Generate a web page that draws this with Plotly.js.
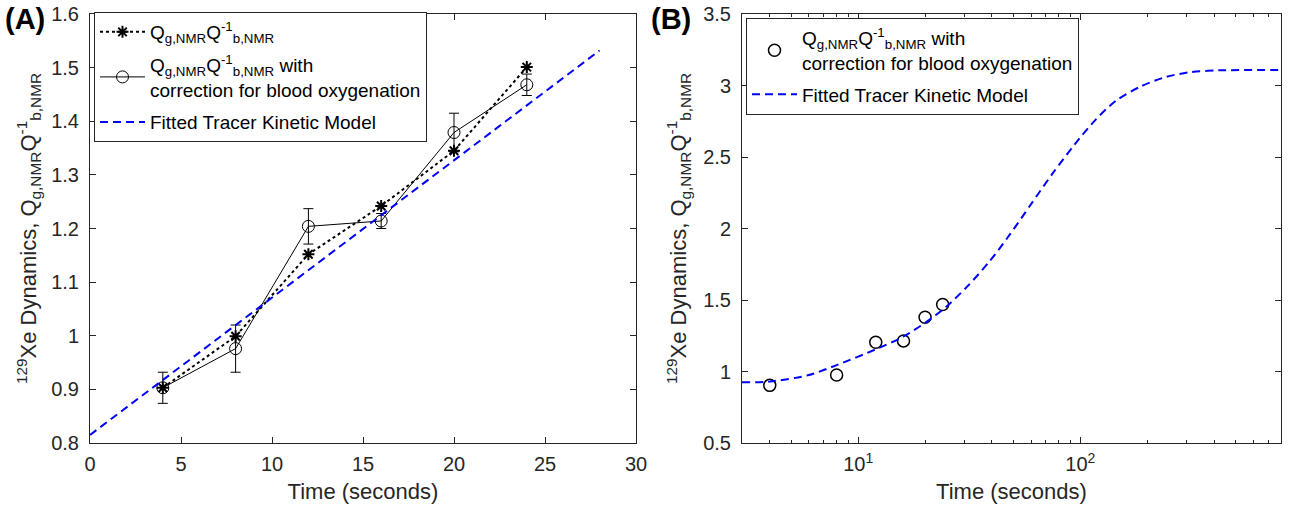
<!DOCTYPE html>
<html>
<head>
<meta charset="utf-8">
<script src="https://cdn.plot.ly/plotly-3.0.1.min.js"></script>
<style>html,body{margin:0;padding:0;background:#fff;}#chart{width:1293px;height:509px;}</style>
</head>
<body>
<div id="chart"></div>
<script>
// ---- data ----
const times = [4, 8, 12, 16, 20, 24];
const ratioRaw = [0.903, 0.999, 1.152, 1.242, 1.345, 1.501];
const ratioCorr = [0.903, 0.976, 1.204, 1.214, 1.379, 1.468];
const errCorr = [0.029, 0.044, 0.033, 0.014, 0.036, 0.020];

const fitTimeA = [0, 28];
const fitValA = [0.815, 1.532];

const fitTimeB = [3, 4, 6, 8, 12, 16, 20, 25, 31, 39, 48, 60, 75, 94, 117, 145, 188, 243, 314, 421, 800];
const fitValB = [0.925, 0.93, 0.975, 1.045, 1.155, 1.245, 1.34, 1.455, 1.595, 1.77, 1.955, 2.17, 2.385, 2.585, 2.76, 2.895, 2.995, 3.06, 3.094, 3.106, 3.108];

const xTicksA = [0, 5, 10, 15, 20, 25, 30];
const yTicksA = [0.8, 0.9, 1, 1.1, 1.2, 1.3, 1.4, 1.5, 1.6];
const yTicksB = [0.5, 1, 1.5, 2, 2.5, 3, 3.5];
const xMajorB = [10, 100];
const xMajorLabelsB = ['10<sup>1</sup>', '10<sup>2</sup>'];
const xMinorB = [4, 5, 6, 7, 8, 9, 20, 30, 40, 50, 60, 70, 80, 90, 200, 300, 400, 500, 600, 700, 800];

const QLabel = 'Q<sub>g,NMR</sub>Q<sup>-1</sup><sub>b,NMR</sub>';
const ink = '#262626';
const font = 'Liberation Sans, Arial, sans-serif';

const traces = [
  {
    x: times, y: ratioRaw, xaxis: 'x', yaxis: 'y', type: 'scatter', mode: 'lines+markers',
    name: QLabel, legend: 'legend', legendgroup: 'a1',
    line: {color: '#000', width: 2, dash: 'dot'},
    marker: {symbol: 'asterisk-open', size: 10, color: '#000', line: {color: '#000', width: 2}}
  },
  {
    x: times, y: ratioCorr, xaxis: 'x', yaxis: 'y', type: 'scatter', mode: 'lines+markers',
    name: QLabel + ' with<br>correction for blood oxygenation', legend: 'legend', legendgroup: 'a2',
    line: {color: '#000', width: 1},
    marker: {symbol: 'circle-open', size: 12, color: '#000', line: {color: '#000', width: 1}},
    error_y: {type: 'data', array: errCorr, visible: true, color: '#000', thickness: 1, width: 5}
  },
  {
    x: fitTimeA, y: fitValA, xaxis: 'x', yaxis: 'y', type: 'scatter', mode: 'lines',
    name: 'Fitted Tracer Kinetic Model', legend: 'legend', legendgroup: 'a3',
    line: {color: '#0000ff', width: 2, dash: '8px,5px'}
  },
  {
    x: times, y: ratioCorr, xaxis: 'x2', yaxis: 'y2', type: 'scatter', mode: 'markers',
    name: QLabel + ' with<br>correction for blood oxygenation', legend: 'legend2', legendgroup: 'b1',
    marker: {symbol: 'circle-open', size: 12, color: '#000', line: {color: '#000', width: 1.5}}
  },
  {
    x: fitTimeB, y: fitValB, xaxis: 'x2', yaxis: 'y2', type: 'scatter', mode: 'lines',
    name: 'Fitted Tracer Kinetic Model', legend: 'legend2', legendgroup: 'b2',
    line: {color: '#0000ff', width: 2, dash: '8px,5px', shape: 'spline', smoothing: 0.8}
  }
];

const axisCommon = {
  showline: true, linecolor: ink, linewidth: 1, mirror: 'ticks',
  ticks: 'inside', ticklen: 6, tickcolor: ink, tickwidth: 1,
  showgrid: false, zeroline: false,
  tickfont: {family: font, size: 20, color: ink}
};

const yTitle = '<sup>129</sup>Xe Dynamics, ' + QLabel;
const titleFont = {family: font, size: 22, color: ink};

const layout = {
  width: 1293, height: 509,
  margin: {l: 0, r: 0, t: 0, b: 0},
  paper_bgcolor: '#fff', plot_bgcolor: '#fff',
  font: {family: font, color: ink},
  showlegend: true,
  xaxis: Object.assign({}, axisCommon, {
    domain: [90 / 1293, 636 / 1293], anchor: 'y', range: [0, 30],
    tickmode: 'array', tickvals: xTicksA, ticklabelstandoff: 3,
    title: {text: 'Time (seconds)', font: titleFont, standoff: 9}
  }),
  yaxis: Object.assign({}, axisCommon, {
    domain: [1 - 443 / 509, 1 - 14 / 509], anchor: 'x', range: [0.8, 1.6],
    tickmode: 'array', tickvals: yTicksA, ticklabelstandoff: 6,
    title: {text: yTitle, font: titleFont, standoff: 8}
  }),
  xaxis2: Object.assign({}, axisCommon, {
    domain: [742 / 1293, 1281 / 1293], anchor: 'y2', type: 'log',
    range: [Math.log10(3), Math.log10(800)],
    tickmode: 'array', tickvals: xMajorB, ticktext: xMajorLabelsB, ticklabelstandoff: 3,
    minor: {tickmode: 'array', tickvals: xMinorB, ticks: 'inside', ticklen: 3, tickcolor: ink, tickwidth: 1, showgrid: false},
    title: {text: 'Time (seconds)', font: titleFont, standoff: 9}
  }),
  yaxis2: Object.assign({}, axisCommon, {
    domain: [1 - 443 / 509, 1 - 14 / 509], anchor: 'x2', range: [0.5, 3.5],
    tickmode: 'array', tickvals: yTicksB, ticklabelstandoff: 6,
    title: {text: yTitle, font: titleFont, standoff: 10}
  }),
  legend: {
    x: 94 / 1293, y: 1 - 12 / 509, xanchor: 'left', yanchor: 'top',
    bgcolor: '#fff', bordercolor: ink, borderwidth: 1,
    font: {family: font, size: 19, color: '#000'},
    traceorder: 'grouped', tracegroupgap: 5, itemwidth: 45
  },
  legend2: {
    x: 746 / 1293, y: 1 - 18 / 509, xanchor: 'left', yanchor: 'top',
    bgcolor: '#fff', bordercolor: ink, borderwidth: 1,
    font: {family: font, size: 19, color: '#000'},
    traceorder: 'grouped', tracegroupgap: 4, itemwidth: 45
  },
  annotations: [
    {text: '<b>(A)</b>', xref: 'paper', yref: 'paper', x: 3 / 1293, y: 1 - 1 / 509, xanchor: 'left', yanchor: 'top', showarrow: false, font: {family: font, size: 29, color: '#000'}},
    {text: '<b>(B)</b>', xref: 'paper', yref: 'paper', x: 649 / 1293, y: 1 - 1 / 509, xanchor: 'left', yanchor: 'top', showarrow: false, font: {family: font, size: 29, color: '#000'}}
  ]
};

Plotly.newPlot('chart', traces, layout, {displayModeBar: false, staticPlot: true});
</script>
</body>
</html>
